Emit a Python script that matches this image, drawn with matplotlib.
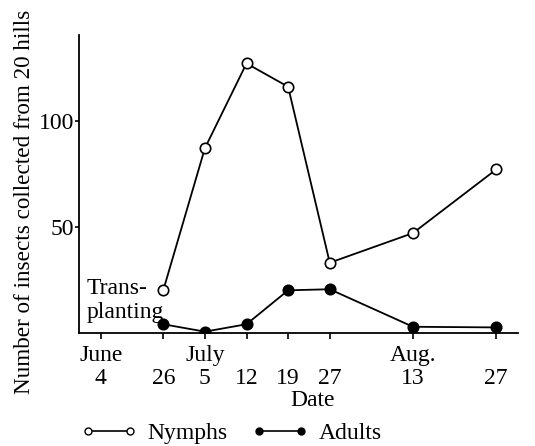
import matplotlib
matplotlib.use("Agg")
import matplotlib.pyplot as plt
from matplotlib.lines import Line2D

plt.rcParams['font.family'] = ['Liberation Serif', 'DejaVu Serif']

# Data
tick_pos = [0, 1.5, 2.5, 3.5, 4.5, 5.5, 7.5, 9.5]
tick_labels = ["June\n4", "\n26", "July\n5", "\n12", "\n19", "\n27", "Aug.\n13", "\n27"]
sample_pos = [1.5, 2.5, 3.5, 4.5, 5.5, 7.5, 9.5]
nymphs = [20, 87, 127, 116, 33, 47, 77]
adults = [4, 0.5, 4, 20, 20.5, 2.8, 2.5]

FS = 17
fig = plt.figure(figsize=(5.35, 4.46), dpi=100)
ax = fig.add_axes([0.148, 0.254, 0.82, 0.6675])

ax.plot(sample_pos, nymphs, color='black', lw=1.3, marker='o', ms=7.5,
        mfc='white', mec='black', mew=1.2, zorder=3)
ax.plot(sample_pos, adults, color='black', lw=1.3, marker='o', ms=7.5,
        mfc='black', mec='black', mew=1.2, zorder=3)

ax.set_xlim(-0.52, 10.02)
ax.set_ylim(0, 140.4)
ax.spines['top'].set_visible(False)
ax.spines['right'].set_visible(False)
ax.spines['left'].set_linewidth(1.3)
ax.spines['bottom'].set_linewidth(1.3)

ax.set_xticks(tick_pos)
ax.set_xticklabels(tick_labels, fontsize=FS, linespacing=1.15)
ax.set_yticks([50, 100])
ax.set_yticklabels(["50", "100"], fontsize=FS)
ax.tick_params(axis='x', direction='out', length=4, width=1.2, pad=4.5)
ax.tick_params(axis='y', direction='out', length=3, width=1.2, pad=0.5)

ax.text(-0.34, 15.2, "Trans-\nplanting", fontsize=FS, ha='left', va='center',
        linespacing=1.15)

fig.text(25 / 535, 1 - 201.5 / 446, "Number of insects collected from 20 hills",
         rotation=90, ha='center', va='center', fontsize=16.7)
fig.text(313 / 535, 1 - 401 / 446, "Date", ha='center', va='center', fontsize=FS)

h1 = Line2D([], [], color='black', lw=1.2, marker='o', ms=5, mfc='white', mec='black')
h2 = Line2D([], [], color='black', lw=1.2, marker='o', ms=5, mfc='black', mec='black')
leg1 = fig.legend([h1], ["Nymphs"], loc='center left',
                  bbox_to_anchor=(81 / 535, 1 - 433.5 / 446), frameon=False,
                  fontsize=FS, numpoints=2, handlelength=2.37, handletextpad=0.45,
                  borderpad=0, borderaxespad=0)
leg2 = fig.legend([h2], ["Adults"], loc='center left',
                  bbox_to_anchor=(252 / 535, 1 - 433.5 / 446), frameon=False,
                  fontsize=FS, numpoints=2, handlelength=2.37, handletextpad=0.45,
                  borderpad=0, borderaxespad=0)

fig.savefig("out.png", dpi=100)
